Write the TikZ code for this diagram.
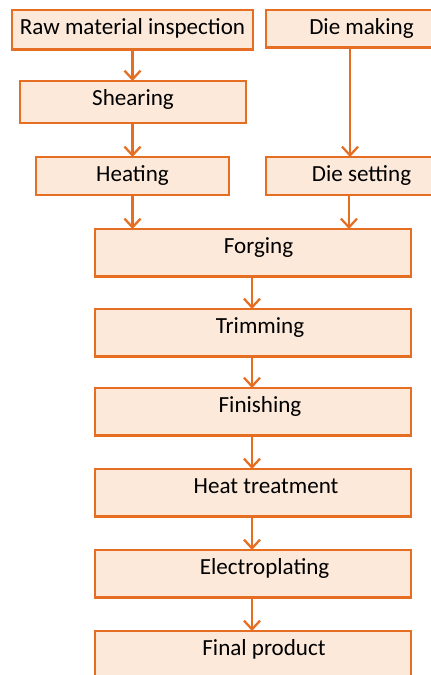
\documentclass[tikz,border=0pt]{standalone}
\usepackage{fontspec}
\setmainfont{Carlito}
\usetikzlibrary{arrows.meta}
\definecolor{lineorange}{RGB}{230,110,35}
\definecolor{peach}{RGB}{252,233,218}
\tikzset{
  box/.style={draw=lineorange, fill=peach, line width=2.2pt, inner sep=0pt, outer sep=0pt,
    anchor=north west, minimum height=0pt, text height=18.3pt, font=\fontsize{17.3pt}{20pt}\selectfont},
  midbox/.style={box, minimum width=237pt, text depth=17pt},
  flow/.style={draw=lineorange, line width=1.7pt, -{Straight Barb[length=6.5pt, width=12pt, line width=1.7pt]}}
}
\begin{document}
\begin{tikzpicture}[x=0.75pt, y=-0.75pt]
\useasboundingbox (0,0) rectangle (430,675);
\node[box, minimum width=180.75pt, text depth=11pt] (raw) at (12,10) {Raw material inspection};
\node[box, minimum width=143.25pt, text depth=9.5pt] (diemaking) at (266,10) {Die making};
\node[box, minimum width=169.5pt, text depth=13.2pt] (shearing) at (20,81) {Shearing};
\node[box, minimum width=144.75pt, text depth=10.2pt] (heating) at (36,157) {Heating};
\node[box, minimum width=143.25pt, text depth=10.2pt] (diesetting) at (266,157) {Die setting};
\node[midbox] (forging) at (95,229) {\hspace*{8.25pt}Forging};
\node[midbox] (trimming) at (95,309) {\hspace*{10.5pt}Trimming};
\node[midbox] (finishing) at (95,388) {\hspace*{10.5pt}Finishing};
\node[midbox] (heat) at (95,469) {\hspace*{19.5pt}Heat treatment};
\node[midbox] (electro) at (95,550) {\hspace*{17.5pt}Electroplating};
\node[midbox] (final) at (95,631) {\hspace*{16.5pt}Final product};
\coordinate (dm) at ([xshift=-8.6pt]diemaking.south);
\coordinate (ds) at ([xshift=-9.4pt]diesetting.south);
\draw[flow] (raw.south) -- (raw.south |- shearing.north);
\draw[flow] (shearing.south -| raw.south) -- (raw.south |- heating.north);
\draw[flow] (heating.south -| raw.south) -- (raw.south |- forging.north);
\draw[flow] (dm) -- (dm |- diesetting.north);
\draw[flow] (ds) -- (ds |- forging.north);
\draw[flow] ([xshift=-0.75pt]forging.south) -- ([xshift=-0.75pt]trimming.north);
\draw[flow] ([xshift=-0.75pt]trimming.south) -- ([xshift=-0.75pt]finishing.north);
\draw[flow] ([xshift=-0.75pt]finishing.south) -- ([xshift=-0.75pt]heat.north);
\draw[flow] ([xshift=-0.75pt]heat.south) -- ([xshift=-0.75pt]electro.north);
\draw[flow] ([xshift=-0.75pt]electro.south) -- ([xshift=-0.75pt]final.north);
\end{tikzpicture}
\end{document}
